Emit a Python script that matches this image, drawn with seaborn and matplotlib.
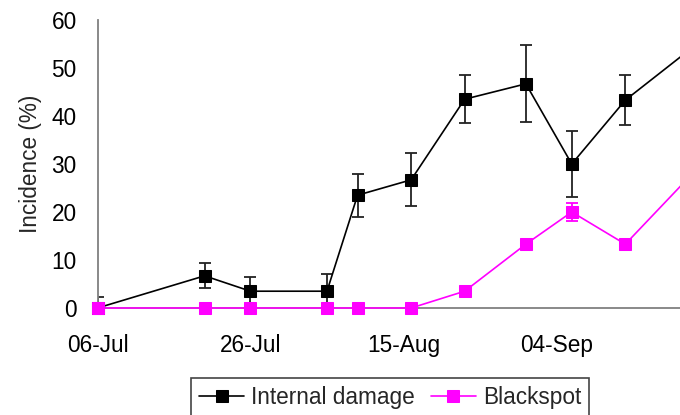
import matplotlib
matplotlib.use('Agg')
import matplotlib.pyplot as plt
import seaborn as sns
import pandas as pd

# ---- data ----
sample_dates = ['2008-07-06', '2008-07-20', '2008-07-26', '2008-08-05', '2008-08-09',
                '2008-08-16', '2008-08-23', '2008-08-31', '2008-09-06', '2008-09-13',
                '2008-09-21']
internal_damage = [0.0, 6.7, 3.5, 3.5, 23.5, 26.7, 43.5, 46.7, 30.0, 43.3, 53.3]
internal_err = [2.2, 2.6, 3.0, 3.6, 4.5, 5.5, 5.0, 8.0, 6.8, 5.2, 5.0]
blackspot = [0.0, 0.0, 0.0, 0.0, 0.0, 0.0, 3.5, 13.3, 20.0, 13.3, 26.7]
blackspot_err = [0.0, 0.0, 0.0, 0.0, 0.0, 0.0, 0.0, 0.0, 1.8, 0.0, 1.3]
series_names = ['Internal damage', 'Blackspot']
series_colors = ['#000000', '#FF00FF']
tick_dates = ['2008-07-06', '2008-07-26', '2008-08-15', '2008-09-04']
tick_labels = ['06-Jul', '26-Jul', '15-Aug', '04-Sep']
y_ticks = [0, 10, 20, 30, 40, 50, 60]
x_start = '2008-07-06'
x_span_days = 76.15

df = pd.DataFrame({
    'date': pd.to_datetime(sample_dates * 2),
    'value': internal_damage + blackspot,
    'err': internal_err + blackspot_err,
    'series': [series_names[0]] * len(sample_dates) + [series_names[1]] * len(sample_dates),
})

FS = 16.3
sns.set_style('white')
plt.rcParams['font.family'] = ['Liberation Sans', 'DejaVu Sans']
plt.rcParams['font.size'] = FS

fig = plt.figure(figsize=(6.8, 4.15), dpi=100)
W, H = 680, 415
ax = fig.add_axes([97.5 / W, 1 - 308 / H, (W - 97.5) / W, 288 / H])

for name, col in zip(series_names, series_colors):
    sub = df[df['series'] == name]
    ax.errorbar(sub['date'], sub['value'], yerr=sub['err'], fmt='none',
                ecolor='#222222' if col == '#000000' else col,
                elinewidth=1.3, capsize=4, capthick=1.3, zorder=2)
    n_before = len(ax.get_lines())
    sns.lineplot(data=sub, x='date', y='value', color=col, marker='s',
                 markersize=8, markeredgecolor=col, markerfacecolor=col,
                 linewidth=1.2, ax=ax, label=name, zorder=3)
    for ln in ax.get_lines()[n_before:]:
        ln.set_clip_on(False)

x0 = pd.Timestamp(x_start)
ax.set_xlim(x0, x0 + pd.Timedelta(days=x_span_days))
ax.set_ylim(0, 60)
ax.set_yticks(y_ticks)
ax.set_xticks(pd.to_datetime(tick_dates))
ax.set_xticklabels(tick_labels)

ax.set_xlabel('')
ax.set_ylabel('Incidence (%)', fontsize=FS, labelpad=7)

for s in ['top', 'right']:
    ax.spines[s].set_visible(False)
for s in ['left', 'bottom']:
    ax.spines[s].set_color('#808080')
    ax.spines[s].set_linewidth(1.3)
ax.tick_params(axis='both', which='major', direction='out', length=6, width=1.2,
               color='#555555', labelsize=FS, labelcolor='black')
ax.tick_params(axis='x', pad=13)
ax.tick_params(axis='y', pad=9)

h, l = ax.get_legend_handles_labels()
if ax.get_legend():
    ax.get_legend().remove()
leg = fig.legend(h, l, loc='upper left', bbox_to_anchor=(191 / W, 1 - 378 / H),
                 ncol=2, frameon=True, fancybox=False, shadow=False,
                 fontsize=FS, handlelength=2.0, handletextpad=0.3,
                 columnspacing=0.7, borderpad=0.35, borderaxespad=0)
leg.get_frame().set_edgecolor('#444444')
leg.get_frame().set_linewidth(1.2)
leg.get_frame().set_alpha(1)

fig.savefig('out.png', dpi=100)
